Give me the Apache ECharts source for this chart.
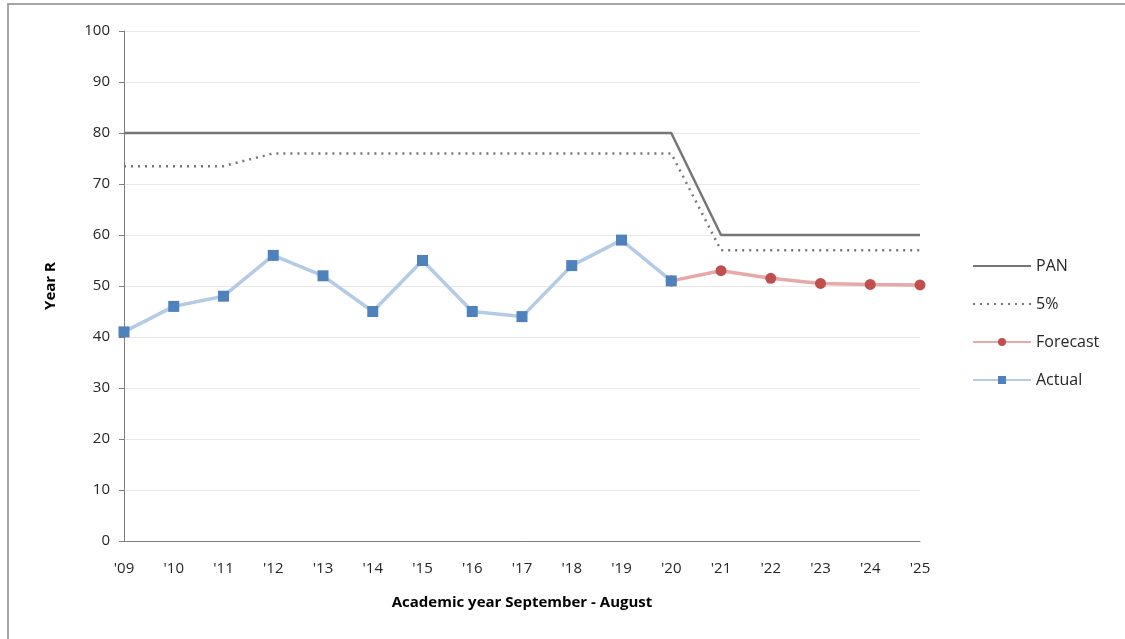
<!DOCTYPE html>
<html><head><meta charset="utf-8">
<script src="https://cdn.jsdelivr.net/npm/echarts@6/dist/echarts.min.js"></script>
<style>body{margin:0;background:#fff}#c{box-sizing:border-box;border-left:2px solid #a6a6a6;border-top:2px solid #a6a6a6;margin-left:7px;margin-top:3px;width:1118px;height:636px}</style>
</head><body><div id="c"></div>
<script>
var years = ["'09","'10","'11","'12","'13","'14","'15","'16","'17","'18","'19","'20","'21","'22","'23","'24","'25"];
var pan = [80,80,80,80,80,80,80,80,80,80,80,80,60,60,60,60,60];
var fivePct = [73.5,73.5,73.5,76,76,76,76,76,76,76,76,76,57,57,57,57,57];
var actual = [41,46,48,56,52,45,55,45,44,54,59,51,null,null,null,null,null];
var forecast = [null,null,null,null,null,null,null,null,null,null,null,51,53,51.5,50.5,50.3,50.2];

var chart = echarts.init(document.getElementById('c'));
var font = '"Open Sans", sans-serif';
chart.setOption({
  animation: false,
  textStyle: { fontFamily: font },
  grid: { left: 115, top: 26, width: 796, height: 510 },
  xAxis: {
    type: 'category', data: years, boundaryGap: false,
    axisLine: { lineStyle: { color: '#7f7f7f' } },
    axisTick: { show: false },
    axisLabel: { color: '#262626', fontSize: 15, margin: 20, fontFamily: font },
    name: 'Academic year September - August', nameLocation: 'middle', nameGap: 54,
    nameTextStyle: { fontWeight: 'bold', fontSize: 15, color: '#000', fontFamily: font }
  },
  yAxis: {
    type: 'value', min: 0, max: 100, interval: 10,
    axisLine: { show: true, lineStyle: { color: '#7f7f7f' } },
    axisTick: { show: true, length: 5, lineStyle: { color: '#7f7f7f' } },
    axisLabel: { color: '#262626', fontSize: 15, margin: 14, fontFamily: font },
    splitLine: { lineStyle: { color: '#e8e8e8' } },
    name: 'Year R', nameLocation: 'middle', nameGap: 66,
    nameTextStyle: { fontWeight: 'bold', fontSize: 15, color: '#000', fontFamily: font }
  },
  legend: {
    orient: 'vertical', left: 958, top: 248, itemGap: 22, itemWidth: 58, itemHeight: 10,
    textStyle: { fontSize: 16, color: '#262626', fontFamily: font },
    data: [
      { name: 'PAN', itemStyle: { opacity: 0 } },
      { name: '5%', itemStyle: { opacity: 0 } },
      'Forecast', 'Actual'
    ]
  },
  series: [
    { name: 'PAN', type: 'line', data: pan, symbol: 'none',
      lineStyle: { color: '#767676', width: 2.5 }, itemStyle: { color: '#767676' } },
    { name: '5%', type: 'line', data: fivePct, symbol: 'none',
      lineStyle: { color: '#767676', width: 2.5, type: [2, 5] }, itemStyle: { color: '#767676' } },
    { name: 'Forecast', type: 'line', data: forecast, symbol: 'circle', symbolSize: 11,
      lineStyle: { color: '#e6a9a8', width: 3.5 }, itemStyle: { color: '#c0504d' } },
    { name: 'Actual', type: 'line', data: actual, symbol: 'rect', symbolSize: 11,
      lineStyle: { color: '#b3cbe6', width: 3.5 }, itemStyle: { color: '#4f81bd' } }
  ]
});
</script></body></html>
